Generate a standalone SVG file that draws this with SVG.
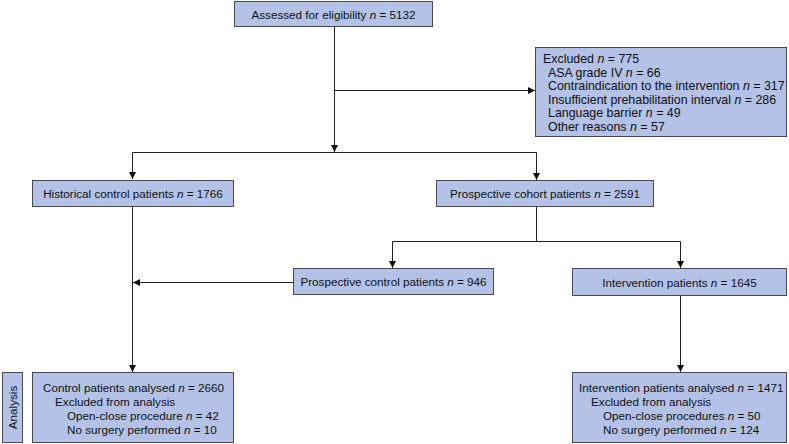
<svg xmlns="http://www.w3.org/2000/svg" width="789" height="444" viewBox="0 0 789 444">
<style>
.box{fill:#b3c2e6;stroke:#4a4a4a;stroke-width:1}
text{font-family:"Liberation Sans",Arial,sans-serif;font-size:11.7px;fill:#111}
.big{font-size:12.4px}
.c{text-anchor:middle}
.i{font-style:italic}
.ln{fill:none;stroke:#222;stroke-width:1}
</style>
<defs>
<marker id="ah" viewBox="0 0 10 10" refX="10" refY="5" markerWidth="7" markerHeight="7" orient="auto" markerUnits="userSpaceOnUse">
<path d="M0,0 L10,5 L0,10 z" fill="#111"/>
</marker>
</defs>
<g id="connectors">
<path class="ln" d="M334.5,27 V152" marker-end="url(#ah)"/>
<path class="ln" d="M334.5,90.5 H535" marker-end="url(#ah)"/>
<path class="ln" d="M132.5,179 V152.5 H536.5 V180" marker-end="url(#ah)"/>
<path class="ln" d="M132.5,153 V179" marker-end="url(#ah)"/>
<path class="ln" d="M132.5,207 V372" marker-end="url(#ah)"/>
<path class="ln" d="M536.5,207 V241.5"/>
<path class="ln" d="M392.5,268 V241.5 H680.5 V268" marker-end="url(#ah)"/>
<path class="ln" d="M392.5,242 V268" marker-end="url(#ah)"/>
<path class="ln" d="M293,282.5 H133" marker-end="url(#ah)"/>
<path class="ln" d="M680.5,296 V372" marker-end="url(#ah)"/>
</g>
<g id="assessed">
<rect class="box" x="234.5" y="1.5" width="198" height="25"/>
<text class="c" x="333.5" y="18.5">Assessed for eligibility <tspan class="i">n</tspan> = 5132</text>
</g>
<g id="excluded">
<rect class="box" x="535.5" y="47.5" width="251" height="89"/>
<text class="big" x="543" y="63">Excluded <tspan class="i">n</tspan> = 775</text>
<text class="big" x="548" y="76.6">ASA grade IV <tspan class="i">n</tspan> = 66</text>
<text class="big" x="548" y="90.2">Contraindication to the intervention <tspan class="i">n</tspan> = 317</text>
<text class="big" x="548" y="103.8">Insufficient prehabilitation interval <tspan class="i">n</tspan> = 286</text>
<text class="big" x="548" y="117.4">Language barrier <tspan class="i">n</tspan> = 49</text>
<text class="big" x="548" y="131">Other reasons <tspan class="i">n</tspan> = 57</text>
</g>
<g id="historical">
<rect class="box" x="32.5" y="180.5" width="201" height="26"/>
<text class="c" x="133" y="198">Historical control patients <tspan class="i">n</tspan> = 1766</text>
</g>
<g id="cohort">
<rect class="box" x="436.5" y="180.5" width="217" height="26"/>
<text class="c" x="545" y="198">Prospective cohort patients <tspan class="i">n</tspan> = 2591</text>
</g>
<g id="prospective-control">
<rect class="box" x="293.5" y="268.5" width="200" height="26"/>
<text class="c" x="393.5" y="286">Prospective control patients <tspan class="i">n</tspan> = 946</text>
</g>
<g id="intervention">
<rect class="box" x="572.5" y="268.5" width="214" height="27"/>
<text class="c" x="679.5" y="286.5">Intervention patients <tspan class="i">n</tspan> = 1645</text>
</g>
<g id="analysis-label">
<rect class="box" x="2.5" y="372.5" width="20" height="70"/>
<text class="c" transform="translate(16.5,407.5) rotate(-90)">Analysis</text>
</g>
<g id="control-analysed">
<rect class="box" x="32.5" y="372.5" width="201" height="70"/>
<text x="43" y="391.5">Control patients analysed <tspan class="i">n</tspan> = 2660</text>
<text x="55" y="405.5">Excluded from analysis</text>
<text x="67" y="419.5">Open-close procedure <tspan class="i">n</tspan> = 42</text>
<text x="67" y="433.5">No surgery performed <tspan class="i">n</tspan> = 10</text>
</g>
<g id="intervention-analysed">
<rect class="box" x="572.5" y="372.5" width="214" height="70"/>
<text x="579" y="391.5">Intervention patients analysed <tspan class="i">n</tspan> = 1471</text>
<text x="591" y="405.5">Excluded from analysis</text>
<text x="603" y="419.5">Open-close procedures <tspan class="i">n</tspan> = 50</text>
<text x="603" y="433.5">No surgery performed <tspan class="i">n</tspan> = 124</text>
</g>
</svg>
